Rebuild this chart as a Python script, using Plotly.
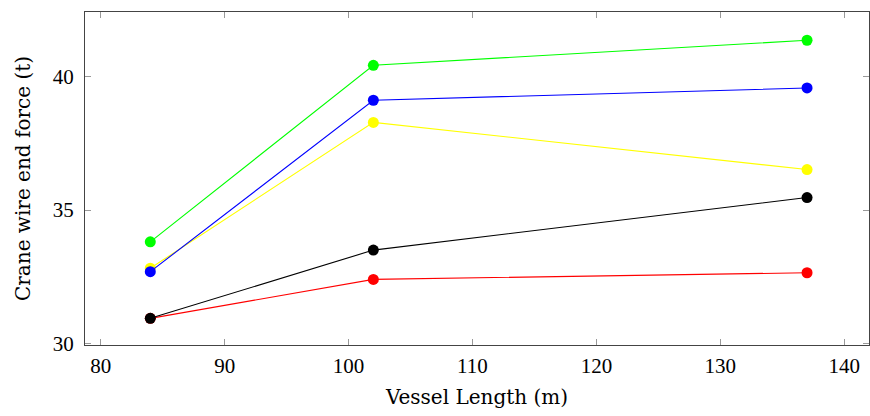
import plotly.graph_objects as go

# Vessel lengths (m) and crane wire end force (t) for each case
vessel_length = [84, 102, 137]
force_red = [30.94, 32.40, 32.65]
force_black = [30.94, 33.50, 35.47]
force_yellow = [32.82, 38.29, 36.52]
force_blue = [32.69, 39.12, 39.58]
force_green = [33.81, 40.43, 41.37]

x_ticks = [80, 90, 100, 110, 120, 130, 140]
y_ticks = [30, 35, 40]

series = [
    (force_red, "#ff0000"),
    (force_black, "#000000"),
    (force_yellow, "#ffff00"),
    (force_blue, "#0000ff"),
    (force_green, "#00ff00"),
]

fig = go.Figure()
for values, color in series:
    fig.add_trace(go.Scatter(
        x=vessel_length, y=values, mode="lines+markers",
        line=dict(color=color, width=1.1),
        marker=dict(color=color, size=11),
        showlegend=False,
    ))

tick_font = dict(family="Liberation Serif", size=21, color="black")
title_font = dict(family="DejaVu Serif", size=20, color="black")
axis_common = dict(
    showgrid=False, zeroline=False,
    showline=True, linecolor="#444444", linewidth=1.2,
    mirror="allticks", ticks="inside", ticklen=6, tickcolor="#999999",
    tickfont=tick_font,
)

fig.update_layout(
    width=870, height=416,
    margin=dict(l=85, r=1, t=12, b=71),
    paper_bgcolor="white", plot_bgcolor="white",
    xaxis=dict(range=[78.73, 142.0], tickvals=x_ticks, ticklabelstandoff=2,
               title=dict(text="Vessel Length (m)", standoff=12, font=title_font),
               **axis_common),
    yaxis=dict(range=[29.94, 42.43], tickvals=y_ticks, ticklabelstandoff=6,
               title=dict(text="Crane wire end force (t)", standoff=16, font=title_font),
               **axis_common),
)

fig.write_html("out.html")
